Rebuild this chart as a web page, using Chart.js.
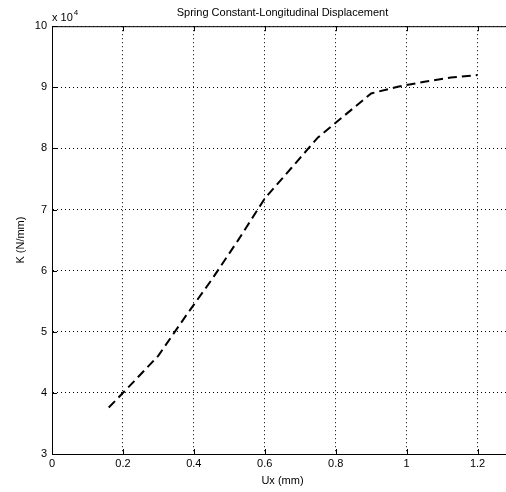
<!DOCTYPE html>
<html>
<head>
<meta charset="utf-8">
<script src="https://cdn.jsdelivr.net/npm/chart.js@4/dist/chart.umd.min.js"></script>
<style>
  html, body { margin: 0; padding: 0; overflow: hidden; background: #fff; }
  #wrap { width: 520px; height: 492px; position: relative; }
</style>
</head>
<body>
<div id="wrap"><canvas id="c"></canvas></div>
<script>
// Data (Ux in mm, K in N/mm)
const uxValues = [0.16, 0.23, 0.30, 0.375, 0.45, 0.525, 0.60, 0.675, 0.75, 0.825, 0.90, 0.975, 1.05, 1.125, 1.20];
const kValues  = [37600, 41800, 46100, 52400, 58500, 65000, 71800, 76800, 81800, 85400, 89000, 90100, 90900, 91600, 92000];
const xTickValues = [0, 0.2, 0.4, 0.6, 0.8, 1, 1.2];
const yTickValues = [30000, 40000, 50000, 60000, 70000, 80000, 90000, 100000];
const titleText = 'Spring Constant-Longitudinal Displacement';
const xLabel = 'Ux (mm)';
const yLabel = 'K (N/mm)';

const FONT = 'Liberation Sans, Arial, sans-serif';

const points = uxValues.map((x, i) => ({ x: x, y: kValues[i] }));

const matlabFrame = {
  id: 'matlabFrame',
  afterDatasetsDraw(chart) {
    const { ctx, chartArea: a, scales } = chart;
    ctx.save();
    ctx.strokeStyle = '#000';
    ctx.lineWidth = 1;
    ctx.setLineDash([]);
    // top border
    ctx.beginPath();
    ctx.moveTo(a.left, a.top + 0.5);
    ctx.lineTo(a.right, a.top + 0.5);
    ctx.stroke();
    // inward tick marks
    const tl = 5;
    scales.x.ticks.forEach(t => {
      const px = Math.round(scales.x.getPixelForValue(t.value)) + 0.5;
      ctx.beginPath();
      ctx.moveTo(px, a.bottom); ctx.lineTo(px, a.bottom - tl);
      ctx.moveTo(px, a.top); ctx.lineTo(px, a.top + tl);
      ctx.stroke();
    });
    scales.y.ticks.forEach(t => {
      const py = Math.round(scales.y.getPixelForValue(t.value)) + 0.5;
      ctx.beginPath();
      ctx.moveTo(a.left, py); ctx.lineTo(a.left + tl, py);
      ctx.moveTo(a.right, py); ctx.lineTo(a.right - tl, py);
      ctx.stroke();
    });
    // exponent label
    ctx.fillStyle = '#000';
    ctx.textAlign = 'left';
    ctx.textBaseline = 'alphabetic';
    ctx.font = '11px ' + FONT;
    ctx.fillText('x 10', a.left, a.top - 5);
    const w = ctx.measureText('x 10').width;
    ctx.font = '8px ' + FONT;
    ctx.fillText('4', a.left + w + 1, a.top - 11);
    ctx.restore();
  }
};

new Chart(document.getElementById('c'), {
  type: 'line',
  data: {
    datasets: [{
      data: points,
      borderColor: '#000',
      borderWidth: 2,
      borderDash: [9, 5],
      pointRadius: 0,
      fill: false,
      tension: 0
    }]
  },
  options: {
    responsive: true,
    maintainAspectRatio: false,
    animation: false,
    layout: { padding: { left: 0, right: 7, top: 0, bottom: 0 } },
    plugins: {
      legend: { display: false },
      tooltip: { enabled: false },
      title: {
        display: true,
        text: titleText,
        fullSize: false,
        color: '#000',
        font: { family: FONT, size: 11, weight: 'normal' },
        padding: { top: 6, bottom: 7 }
      }
    },
    scales: {
      x: {
        type: 'linear',
        min: 0,
        max: 1.3,
        afterBuildTicks: s => { s.ticks = xTickValues.map(v => ({ value: v })); },
        afterFit: s => { s.height = 38; },
        ticks: {
          color: '#000',
          font: { family: FONT, size: 11 },
          padding: 3,
          maxRotation: 0,
          callback: v => String(+(+v).toFixed(1))
        },
        grid: { color: '#000', lineWidth: 1, drawTicks: false },
        border: { display: true, color: '#000', width: 1, dash: [1, 3] },
        title: {
          display: true,
          text: xLabel,
          color: '#000',
          font: { family: FONT, size: 11 },
          padding: { top: 0, bottom: 4 }
        }
      },
      y: {
        type: 'linear',
        min: 30000,
        max: 100000,
        afterBuildTicks: s => { s.ticks = yTickValues.map(v => ({ value: v })); },
        afterFit: s => { s.width = 52; },
        ticks: {
          color: '#000',
          font: { family: FONT, size: 11 },
          padding: 5,
          callback: v => String(v / 10000)
        },
        grid: { color: '#000', lineWidth: 1, drawTicks: false },
        border: { display: true, color: '#000', width: 1, dash: [1, 3] },
        title: {
          display: true,
          text: yLabel,
          color: '#000',
          font: { family: FONT, size: 11 },
          padding: { top: 14, bottom: 0 }
        }
      }
    }
  },
  plugins: [matlabFrame]
});
</script>
</body>
</html>
